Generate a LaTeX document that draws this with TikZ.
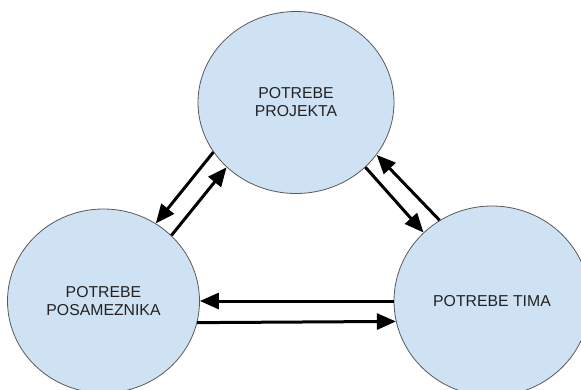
\documentclass[tikz,border=0pt]{standalone}
\usepackage{fontspec}
\setmainfont{Liberation Sans}
\usetikzlibrary{arrows.meta,shapes.geometric}
\definecolor{bubblefill}{HTML}{CFE2F3}
\definecolor{bubbleline}{HTML}{595959}
\definecolor{labeltext}{HTML}{222222}
\begin{document}
\begin{tikzpicture}[x=1pt,y=-1pt,
  need/.style={ellipse, draw=bubbleline, line width=0.8pt, fill=bubblefill,
    inner sep=0pt, align=center, text=labeltext,
    font=\fontsize{15.8}{18}\selectfont},
  flow/.style={line width=3pt, draw=black,
    -{Triangle[length=19pt,width=16pt]}}]
\useasboundingbox (0,0) rectangle (581,389);

% the three groups of needs
\node[need, minimum width=196pt, minimum height=182pt] (proj) at (296,102.5) {POTREBE\\PROJEKTA};
\node[need, minimum width=192pt, minimum height=184pt] (posa) at (103.5,301) {POTREBE\\POSAMEZNIKA};
\node[need, minimum width=196pt, minimum height=190pt] (tim) at (492,301) {POTREBE TIMA};

% project <-> individual
\draw[flow] (proj.211.7) -- (posa.56.6);
\draw[flow] (posa.44.4) -- (proj.223.9);
% project <-> team
\draw[flow] (proj.317.7) -- (tim.135);
\draw[flow] (tim.123) -- (proj.327.8);
% team <-> individual
\draw[flow] (tim.180) -- (posa.0);
\draw[flow] (posa.347.8) -- (tim.192.1);
\end{tikzpicture}
\end{document}
